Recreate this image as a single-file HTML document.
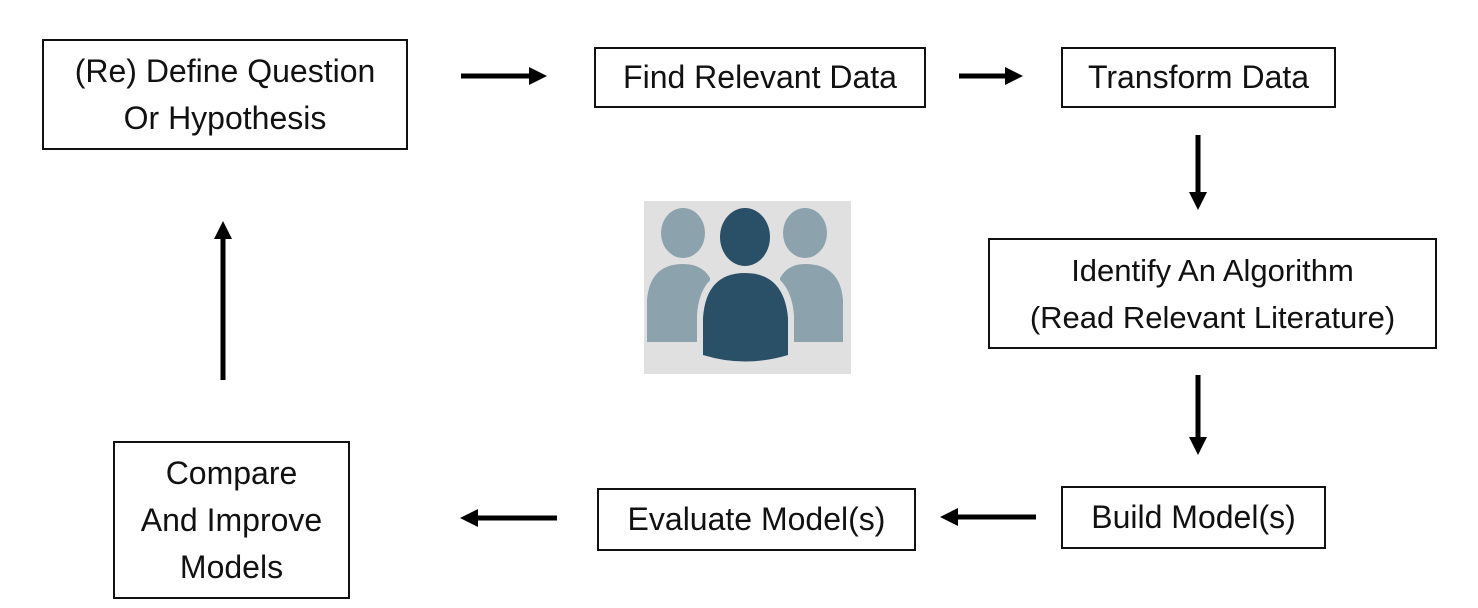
<!DOCTYPE html>
<html><head><style>
body{margin:0;background:#fff;width:1478px;height:608px;overflow:hidden;position:relative;font-family:"Liberation Sans",sans-serif;}
.b{position:absolute;border:2px solid #111;box-sizing:border-box;display:flex;align-items:center;justify-content:center;text-align:center;font-size:32px;line-height:47px;color:#111;white-space:nowrap;}
svg{position:absolute;left:0;top:0}
</style></head><body>
<div class="b" style="left:42px;top:39px;width:366px;height:111px">(Re) Define Question<br>Or Hypothesis</div>
<div class="b" style="left:594px;top:47px;width:332px;height:61px">Find Relevant Data</div>
<div class="b" style="left:1061px;top:47px;width:275px;height:61px">Transform Data</div>
<div class="b" style="left:988px;top:238px;width:449px;height:111px;font-size:31px">Identify An Algorithm<br>(Read Relevant Literature)</div>
<div class="b" style="left:1061px;top:486px;width:265px;height:63px">Build Model(s)</div>
<div class="b" style="left:597px;top:488px;width:319px;height:63px">Evaluate Model(s)</div>
<div class="b" style="left:113px;top:441px;width:237px;height:158px">Compare<br>And Improve<br>Models</div>
<svg width="1478" height="608">
<defs><marker id="a" markerWidth="5" markerHeight="5" refX="2" refY="2.5" orient="auto" markerUnits="strokeWidth"><path d="M0,0.7 L3.6,2.5 L0,4.3z" fill="#000"/></marker></defs>
<g stroke="#000" stroke-width="5" marker-end="url(#a)">
<line x1="461" y1="76" x2="539" y2="76"/>
<line x1="959" y1="76" x2="1015" y2="76"/>
<line x1="1198" y1="135" x2="1198" y2="202"/>
<line x1="1198" y1="375" x2="1198" y2="447"/>
<line x1="1036" y1="517" x2="948" y2="517"/>
<line x1="557" y1="518" x2="468" y2="518"/>
<line x1="223" y1="380" x2="223" y2="229"/>
</g>
<rect x="644" y="201" width="207" height="173" fill="#e0e0e0"/>
<g fill="#8ca2ad">
<ellipse cx="683" cy="233" rx="22" ry="25"/>
<path d="M647,342 L647,300 Q650,264 683,264 Q702,264 710,278 L710,342 Z"/>
<ellipse cx="805" cy="233" rx="22" ry="25"/>
<path d="M843,342 L843,300 Q840,264 805,264 Q788,264 780,278 L780,342 Z"/>
</g>
<g fill="#e0e0e0"><path d="M697,364 L697,315 Q700,268 745,268 Q790,268 794,315 L794,364 Z"/></g>
<g fill="#2a5068">
<ellipse cx="745" cy="237" rx="25" ry="29"/>
<path d="M703,355 L703,318 Q706,273 745,273 Q784,273 788,318 L788,355 Q745,368 703,355 Z"/>
</g>
</svg>
</body></html>
